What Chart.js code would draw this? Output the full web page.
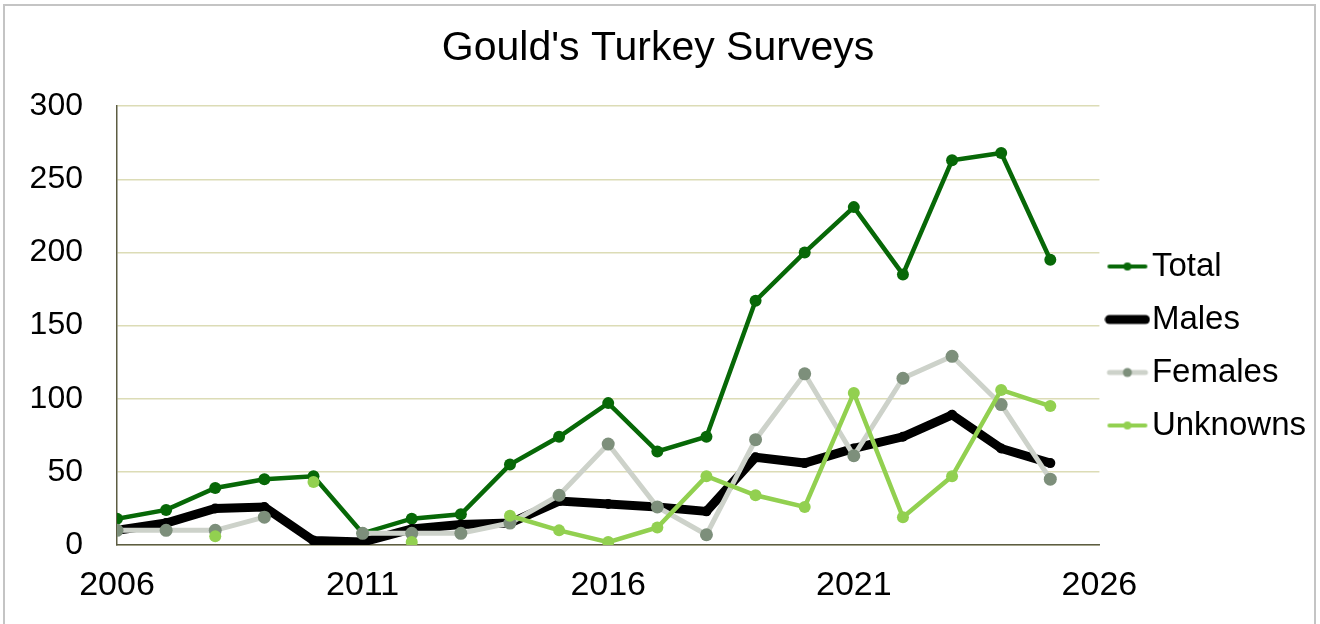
<!DOCTYPE html>
<html>
<head>
<meta charset="utf-8">
<script src="https://cdn.jsdelivr.net/npm/chart.js@4/dist/chart.umd.min.js"></script>
<style>
  html, body { margin: 0; padding: 0; background: #ffffff; }
  #frame {
    position: absolute; left: 3px; top: 4px; width: 1313px; height: 640px;
    border: 2px solid #c4c4c4; box-sizing: border-box;
  }
  #wrap { position: absolute; left: 0; top: 0; width: 1320px; height: 624px; }
</style>
</head>
<body>
<div id="frame"></div>
<div id="wrap"><canvas id="turkeyChart" width="1320" height="624"></canvas></div>
<script>
const years = [2006, 2007, 2008, 2009, 2010, 2011, 2012, 2013, 2014, 2015,
    2016, 2017, 2018, 2019, 2020, 2021, 2022, 2023, 2024, 2025]
const total = [18, 24, 39, 45, 47, 8, 18, 21, 55, 74, 97, 64, 74, 167, 200, 231, 185, 263, 268, 195]
const males = [10, 15, 25, 26, 3, 2, 11, 14, 15, 30, 28, 26, 23, 60, 56, 66, 74, 89, 66, 56]
const females = [10, 10, 10, 19, null, 8, 8, 8, 15, 34, 69, 26, 7, 72, 117, 61, 114, 129, 96, 45]
const unknowns = [null, null, 6, null, 43, null, 2, null, 20, 10, 2, 12, 47, 34, 26, 104, 19, 47, 106, 95]
const xTicks = [2006, 2011, 2016, 2021, 2026]
const yTicks = [0, 50, 100, 150, 200, 250, 300]

const colors = {
    total: "#076807",
    males: "#000000",
    femalesLine: "#cdd2ca",
    femalesPoint: "#7d8f7b",
    unknowns: "#92d050",
    grid: "#dcdcb6",
    axis: "#5d5d42",
}

const toPoints = (values) => years.map((yr, i) => ({ x: yr, y: values[i] }))

// small line + dot marker for the legend
const legendMarker = (lineColor, lineWidth, dotColor, dotRadius) => {
    const c = document.createElement("canvas")
    c.width = 46
    c.height = 16
    const g = c.getContext("2d")
    g.strokeStyle = lineColor
    g.lineWidth = lineWidth
    g.lineCap = "round"
    g.beginPath()
    g.moveTo(5, 8)
    g.lineTo(41, 8)
    g.stroke()
    g.fillStyle = dotColor
    g.beginPath()
    g.arc(23, 8, dotRadius, 0, Math.PI * 2)
    g.fill()
    return c
}

const font = "'Liberation Sans', Arial, sans-serif"

new Chart(document.getElementById("turkeyChart"), {
    type: "line",
    data: {
        datasets: [
            {
                label: "Total",
                data: toPoints(total),
                borderColor: colors.total,
                backgroundColor: colors.total,
                borderWidth: 4.5,
                pointRadius: 6,
                pointBorderWidth: 0,
                order: 4,
                legendMarker: legendMarker(colors.total, 4, colors.total, 4),
            },
            {
                label: "Males",
                data: toPoints(males),
                borderColor: colors.males,
                backgroundColor: colors.males,
                borderWidth: 9,
                pointRadius: 5,
                pointBorderWidth: 0,
                order: 3,
                legendMarker: legendMarker(colors.males, 9, colors.males, 4),
            },
            {
                label: "Females",
                data: toPoints(females),
                borderColor: colors.femalesLine,
                backgroundColor: colors.femalesPoint,
                borderWidth: 5,
                pointRadius: 6.5,
                pointBorderWidth: 0,
                order: 2,
                legendMarker: legendMarker(colors.femalesLine, 5, colors.femalesPoint, 4.5),
            },
            {
                label: "Unknowns",
                data: toPoints(unknowns),
                borderColor: colors.unknowns,
                backgroundColor: colors.unknowns,
                borderWidth: 4.5,
                pointRadius: 6,
                pointBorderWidth: 0,
                order: 1,
                legendMarker: legendMarker(colors.unknowns, 4, colors.unknowns, 4),
            },
        ],
    },
    options: {
        responsive: false,
        animation: false,
        spanGaps: false,
        layout: { padding: { left: 0, right: 4, top: 0, bottom: 0 } },
        plugins: {
            title: {
                display: true,
                text: "Gould's Turkey Surveys",
                color: "#000000",
                font: { family: font, size: 41, weight: "normal" },
                padding: { top: 24, bottom: 33 },
            },
            legend: {
                position: "right",
                reverse: true,
                title: {
                    display: true,
                    text: " ",
                    font: { size: 10, lineHeight: 1.2 },
                    padding: { top: 0, bottom: 56 },
                },
                labels: {
                    color: "#000000",
                    font: { family: font, size: 33 },
                    usePointStyle: true,
                    pointStyleWidth: 16,
                    padding: 20,
                    generateLabels: (chart) => {
                        const items = Chart.defaults.plugins.legend.labels.generateLabels(chart)
                        items.forEach((item) => {
                            item.pointStyle = chart.data.datasets[item.datasetIndex].legendMarker
                        })
                        return items
                    },
                },
            },
            tooltip: { enabled: false },
        },
        scales: {
            x: {
                type: "linear",
                min: 2006,
                max: 2026,
                afterBuildTicks: (scale) => {
                    scale.ticks = xTicks.map((v) => ({ value: v }))
                },
                afterFit: (scale) => {
                    scale.height = 79
                },
                ticks: {
                    color: "#000000",
                    font: { family: font, size: 34 },
                    padding: 20,
                    maxRotation: 0,
                    callback: (value) => String(value),
                },
                grid: { display: false, drawTicks: false },
                border: { display: true, color: colors.axis, width: 1.5 },
            },
            y: {
                min: 0,
                max: 300,
                afterBuildTicks: (scale) => {
                    scale.ticks = yTicks.map((v) => ({ value: v }))
                },
                afterFit: (scale) => {
                    scale.width = 117
                },
                ticks: {
                    color: "#000000",
                    font: { family: font, size: 32 },
                    padding: 34,
                },
                grid: { color: colors.grid, lineWidth: 1.5, drawTicks: false },
                border: { display: true, color: colors.axis, width: 1.5 },
            },
        },
    },
})
</script>
</body>
</html>
